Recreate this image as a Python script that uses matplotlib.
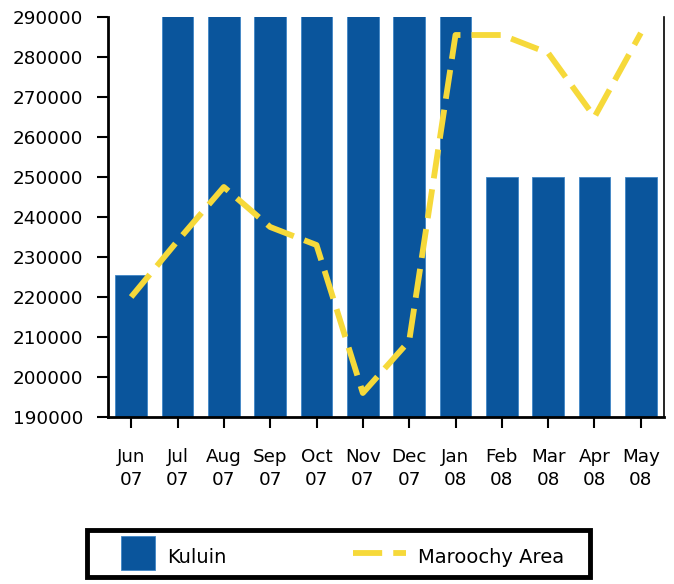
import matplotlib
matplotlib.use("Agg")
import matplotlib.pyplot as plt
from matplotlib.patches import Rectangle
from matplotlib.legend_handler import HandlerPatch, HandlerLine2D

months = ["Jun\n07", "Jul\n07", "Aug\n07", "Sep\n07", "Oct\n07", "Nov\n07",
          "Dec\n07", "Jan\n08", "Feb\n08", "Mar\n08", "Apr\n08", "May\n08"]
kuluin = [225500, 300000, 300000, 300000, 300000, 300000,
          300000, 300000, 250000, 250000, 250000, 250000]
maroochy = [220000, 234000, 247500, 237500, 233000, 196000,
            209000, 285500, 285500, 281000, 265000, 286000]
yticks = [190000, 200000, 210000, 220000, 230000, 240000,
          250000, 260000, 270000, 280000, 290000]

plt.rcParams['font.family'] = ['DejaVu Sans']

W, H = 674, 584
fig = plt.figure(figsize=(W / 100, H / 100), dpi=100)
ax = fig.add_axes([108 / W, 1 - 417 / H, (664 - 108) / W, (417 - 17) / H])

x = list(range(len(months)))
bar_color = "#0A559C"
line_color = "#F6D93A"
bars = ax.bar(x, kuluin, width=0.68, color=bar_color, edgecolor="#3F86C6",
              linewidth=0.6, label="Kuluin", zorder=2)
line, = ax.plot(x, maroochy, color=line_color, linewidth=4.2,
                dashes=(5, 1.9), label="Maroochy Area", zorder=3)

ax.set_xlim(-0.5, len(months) - 0.5)
ax.set_ylim(190000, 290000)
ax.set_yticks(yticks)
ax.set_yticklabels([str(v) for v in yticks])
ax.set_xticks(x)
ax.set_xticklabels(months, linespacing=1.35)

ax.tick_params(axis='y', direction='out', length=8, width=1.5, labelsize=13.2,
               pad=10, colors='black')
ax.tick_params(axis='x', direction='out', length=8, width=1.5, labelsize=13.2,
               pad=14.5, colors='black')

for s in ['left', 'bottom']:
    ax.spines[s].set_linewidth(2)
ax.spines['right'].set_linewidth(1.2)
ax.spines['top'].set_visible(False)

LEG_FS = 14.0
px_per_em = LEG_FS * 100 / 72.0


def square_patch(legend, orig_handle, xdescent, ydescent, width, height, fontsize):
    side = height + ydescent
    return Rectangle((-xdescent, -ydescent), side, side)


class LongLine(HandlerLine2D):
    def get_xdata(self, legend, xdescent, ydescent, width, height, fontsize):
        extra = 19.0 * 72.0 / 100.0
        xs = [-xdescent - extra, width - xdescent]
        return xs, xs


bar_handle = bars.patches[0]
leg = fig.legend([bar_handle, line], ["Kuluin", "Maroochy Area"],
                 loc='center left', bbox_to_anchor=(121 / W, 1 - 557 / H),
                 ncol=2, frameon=False,
                 fontsize=LEG_FS, handlelength=34 / px_per_em,
                 handleheight=34 / px_per_em,
                 handletextpad=12 / px_per_em, borderpad=0, borderaxespad=0,
                 columnspacing=146 / px_per_em,
                 handler_map={bar_handle: HandlerPatch(patch_func=square_patch),
                              line: LongLine()})

frame = Rectangle((87 / W, 1 - 577 / H), (590 - 87) / W, (577 - 530) / H,
                  transform=fig.transFigure, fill=False, edgecolor='black',
                  linewidth=3.5)
fig.patches.append(frame)

fig.savefig("out.png", dpi=100)
